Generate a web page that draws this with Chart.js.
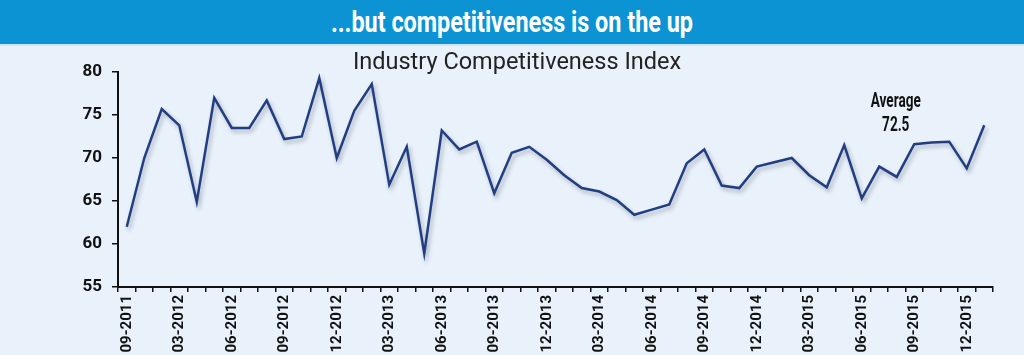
<!DOCTYPE html>
<html>
<head>
<meta charset="utf-8">
<script src="https://cdn.jsdelivr.net/npm/chart.js@4/dist/chart.umd.min.js"></script>
<style>
  html, body { margin: 0; padding: 0; background: #e9f2fb; }
  body { width: 1024px; height: 355px; overflow: hidden; position: relative; }
  #banner {
    position: absolute; left: 0; top: 0; width: 1024px; height: 44px;
    background: #0b93d3; color: #fff; text-align: center;
    border-bottom: 2px solid #cfe6f6;
  }
  #banner span {
    display: inline-block;
    font-family: Roboto, 'DejaVu Sans', sans-serif;
    font-weight: bold; font-size: 30px; line-height: 44px;
    transform: scaleX(0.78); transform-origin: center;
    white-space: nowrap;
  }
  #wrap { position: absolute; left: 0; top: 46px; width: 1024px; height: 309px; }
</style>
</head>
<body>
<div id="banner"><span>...but competitiveness is on the up</span></div>
<div id="wrap"><canvas id="c"></canvas></div>
<script>
const chartTitle = "Industry Competitiveness Index";
const categories = [
  "09-2011","11-2011","01-2012","03-2012","04-2012","05-2012","06-2012","07-2012","08-2012","09-2012",
  "10-2012","11-2012","12-2012","01-2013","02-2013","03-2013","04-2013","05-2013","06-2013","07-2013",
  "08-2013","09-2013","10-2013","11-2013","12-2013","01-2014","02-2014","03-2014","04-2014","05-2014",
  "06-2014","07-2014","08-2014","09-2014","10-2014","11-2014","12-2014","01-2015","02-2015","03-2015",
  "04-2015","05-2015","06-2015","07-2015","08-2015","09-2015","10-2015","11-2015","12-2015","01-2016"
];
const indexValues = [
  62.0, 70.0, 75.7, 73.8, 64.9, 77.0, 73.5, 73.5, 76.7, 72.2,
  72.5, 79.3, 70.0, 75.5, 78.6, 66.9, 71.3, 58.9, 73.2, 71.0,
  71.9, 65.9, 70.6, 71.3, 69.8, 68.0, 66.5, 66.1, 65.1, 63.4,
  64.0, 64.6, 69.4, 71.0, 66.8, 66.5, 69.0, 69.5, 70.0, 68.0,
  66.6, 71.5, 65.3, 69.0, 67.8, 71.6, 71.8, 71.9, 68.8, 73.8
];
const yTicks = [55, 60, 65, 70, 75, 80];
const averageLabel = "Average";
const averageValue = 72.5;

const FONT = "Roboto, 'DejaVu Sans', sans-serif";

const shadowPlugin = {
  id: 'lineShadow',
  beforeDatasetsDraw(chart) {
    const ctx = chart.ctx;
    ctx.save();
    ctx.shadowColor = 'rgba(40,50,70,0.35)';
    ctx.shadowBlur = 4;
    ctx.shadowOffsetX = 2;
    ctx.shadowOffsetY = 3;
  },
  afterDatasetsDraw(chart) {
    chart.ctx.restore();
  }
};

const textPlugin = {
  id: 'texts',
  afterDraw(chart) {
    const ctx = chart.ctx;
    const xs = chart.scales.x, ys = chart.scales.y;
    ctx.save();
    ctx.fillStyle = '#222';
    ctx.textAlign = 'center';
    ctx.textBaseline = 'middle';
    ctx.font = "23.5px Roboto, 'Open Sans', sans-serif";
    ctx.fillText(chartTitle, 517, 17);
    ctx.restore();

    const ax = xs.getPixelForValue(44) - 1;
    ctx.save();
    ctx.fillStyle = '#111';
    ctx.textAlign = 'center';
    ctx.textBaseline = 'middle';
    ctx.font = "bold 20px " + FONT;
    ctx.translate(ax, 0);
    ctx.scale(0.68, 1);
    ctx.fillText(averageLabel, 0, ys.getPixelForValue(76.5));
    ctx.fillText(averageValue.toFixed(1), 0, ys.getPixelForValue(73.7));
    ctx.restore();
  }
};

new Chart(document.getElementById('c'), {
  type: 'line',
  data: {
    labels: categories,
    datasets: [{
      data: indexValues,
      borderColor: '#223e80',
      borderWidth: 2.5,
      pointRadius: 0,
      tension: 0,
      fill: false
    }]
  },
  options: {
    responsive: true,
    maintainAspectRatio: false,
    animation: false,
    layout: { padding: { top: 26, right: 31, left: 0, bottom: 0 } },
    plugins: { legend: { display: false }, tooltip: { enabled: false }, title: { display: false } },
    scales: {
      x: {
        type: 'category',
        offset: true,
        grid: { offset: true, drawOnChartArea: false, tickLength: 5, color: '#111', lineWidth: 1.5 },
        border: { color: '#111', width: 2 },
        ticks: {
          autoSkip: false,
          maxRotation: 90,
          minRotation: 90,
          padding: 3,
          color: '#111',
          font: { family: FONT, size: 15, weight: 'bold' },
          callback: (v, i) => (i % 3 === 0 ? categories[i] : '')
        },
        afterFit: s => { s.height = 68; }
      },
      y: {
        min: 55,
        max: 80,
        afterBuildTicks: s => { s.ticks = yTicks.map(v => ({ value: v })); },
        grid: { drawOnChartArea: false, tickLength: 6, color: '#111', lineWidth: 1.5 },
        border: { color: '#111', width: 2 },
        ticks: {
          padding: 10,
          color: '#111',
          font: { family: FONT, size: 17, weight: 'bold' }
        },
        afterFit: s => { s.width = 118; }
      }
    }
  },
  plugins: [shadowPlugin, textPlugin]
});
</script>
</body>
</html>
